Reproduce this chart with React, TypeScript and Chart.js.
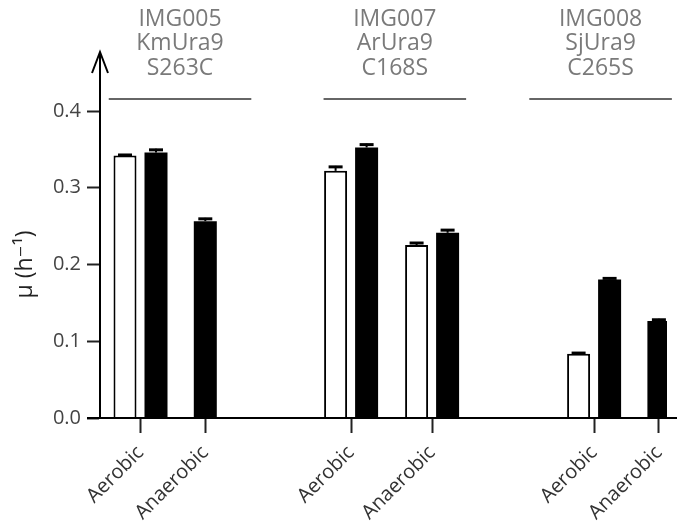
import React, { useEffect, useRef } from "react";
import { Chart, registerables } from "chart.js";

Chart.register(...registerables);

// ---- data ----
const groupNames: string[][] = [
  ["IMG005", "KmUra9", "S263C"],
  ["IMG007", "ArUra9", "C168S"],
  ["IMG008", "SjUra9", "C265S"],
];
const conditions = ["Aerobic", "Anaerobic"];
// one entry per (group, condition): G1 Aer, G1 Anaer, G2 Aer, G2 Anaer, G3 Aer, G3 Anaer
const openValues: (number | null)[] = [0.342, null, 0.322, 0.2253, 0.0837, null];
const openErrors: (number | null)[] = [0.002, null, 0.0065, 0.004, 0.0022, null];
const filledValues: (number | null)[] = [0.346, 0.2565, 0.3525, 0.2413, 0.1806, 0.1263];
const filledErrors: (number | null)[] = [0.0047, 0.0043, 0.005, 0.0048, 0.0026, 0.003];
const yTicks = [0, 0.1, 0.2, 0.3, 0.4];
const yTitle = "μ (h⁻¹)";

// ---- layout (category slots on the x axis) ----
const SLOT_COUNT = 35;
const slotOf = [2, 6, 15, 20, 30, 34];
const headerSlot = [4.44, 17.7, 30.4];
const headerHalfSlots = 4.4;

const FONT = "'Open Sans', 'DejaVu Sans', sans-serif";

function buildLabels(): string[] {
  const labels = new Array(SLOT_COUNT).fill("");
  slotOf.forEach((s, i) => {
    labels[s] = conditions[i % conditions.length];
  });
  return labels;
}
function spread(values: (number | null)[]): (number | null)[] {
  const out: (number | null)[] = new Array(SLOT_COUNT).fill(null);
  slotOf.forEach((s, i) => {
    out[s] = values[i];
  });
  return out;
}

const errorBarPlugin = {
  id: "errorBars",
  afterDatasetsDraw(chart: any) {
    const ctx = chart.ctx;
    const y = chart.scales.y;
    const errs = [spread(openErrors), spread(filledErrors)];
    chart.data.datasets.forEach((ds: any, di: number) => {
      const meta = chart.getDatasetMeta(di);
      meta.data.forEach((el: any, i: number) => {
        const v = ds.data[i];
        const e = errs[di][i];
        if (v == null || e == null) return;
        const top = y.getPixelForValue(v + e);
        ctx.save();
        ctx.strokeStyle = "#000";
        ctx.lineWidth = 2;
        ctx.beginPath();
        ctx.moveTo(el.x, el.y);
        ctx.lineTo(el.x, top);
        ctx.stroke();
        ctx.lineWidth = 3;
        ctx.beginPath();
        ctx.moveTo(el.x - 7, top + 1);
        ctx.lineTo(el.x + 7, top + 1);
        ctx.stroke();
        ctx.restore();
      });
    });
  },
};

const decorPlugin = {
  id: "decor",
  afterDraw(chart: any) {
    const ctx = chart.ctx;
    const area = chart.chartArea;
    const x = chart.scales.x;
    ctx.save();
    // x axis line extended
    ctx.strokeStyle = "#000";
    ctx.lineWidth = 2;
    ctx.beginPath();
    ctx.moveTo(area.left - 13, area.bottom);
    ctx.lineTo(chart.width, area.bottom);
    ctx.stroke();
    // y axis extension with arrow
    const tipY = area.top - 59;
    ctx.beginPath();
    ctx.moveTo(area.left, area.top);
    ctx.lineTo(area.left, tipY);
    ctx.stroke();
    ctx.beginPath();
    ctx.moveTo(area.left - 8, tipY + 21);
    ctx.lineTo(area.left, tipY);
    ctx.lineTo(area.left + 8, tipY + 21);
    ctx.stroke();
    // group headers
    groupNames.forEach((lines, g) => {
      const cx = x.getPixelForValue(headerSlot[g]);
      const half = x.getPixelForValue(headerSlot[g] + headerHalfSlots) - cx;
      ctx.strokeStyle = "#666";
      ctx.lineWidth = 2;
      ctx.beginPath();
      ctx.moveTo(cx - half, area.top - 12);
      ctx.lineTo(cx + half, area.top - 12);
      ctx.stroke();
      ctx.fillStyle = "#7a7a7a";
      ctx.font = `23px ${FONT}`;
      ctx.textAlign = "center";
      ctx.textBaseline = "middle";
      lines.forEach((t, li) => {
        ctx.fillText(t, cx, 19 + li * 24.5);
      });
    });
    ctx.restore();
  },
};

export default function App() {
  const ref = useRef<HTMLCanvasElement | null>(null);
  useEffect(() => {
    if (!ref.current) return;
    const labels = buildLabels();
    const catWidth = 567 / SLOT_COUNT;
    const chart = new Chart(ref.current, {
      type: "bar",
      data: {
        labels,
        datasets: [
          {
            label: "open",
            data: spread(openValues),
            backgroundColor: "#ffffff",
            borderColor: "#000000",
            borderWidth: 2,
          },
          {
            label: "filled",
            data: spread(filledValues),
            backgroundColor: "#000000",
            borderColor: "#000000",
            borderWidth: 0,
          },
        ],
      },
      options: {
        responsive: false,
        animation: false,
        skipNull: true,
        categoryPercentage: 62 / catWidth,
        barPercentage: 1,
        maxBarThickness: 23,
        layout: { padding: { top: 111, right: 10, left: 0, bottom: 0 } },
        plugins: { legend: { display: false }, tooltip: { enabled: false } },
        scales: {
          x: {
            type: "category",
            offset: true,
            afterFit: (s: any) => {
              s.height = 107;
              s.paddingLeft = 0;
              s.paddingRight = 0;
            },
            border: { display: true, color: "#000", width: 2 },
            grid: {
              offset: false,
              drawOnChartArea: false,
              drawTicks: true,
              tickLength: 15,
              tickWidth: 2,
              tickColor: (c: any) => (c.tick && c.tick.label ? "#222" : "rgba(0,0,0,0)"),
            },
            ticks: {
              autoSkip: false,
              minRotation: 45,
              maxRotation: 45,
              padding: 8,
              color: "#333",
              font: { family: FONT, size: 20 },
            },
          },
          y: {
            min: 0,
            max: 0.4,
            afterFit: (s: any) => {
              s.width = 100;
              s.paddingTop = 0;
              s.paddingBottom = 0;
            },
            afterBuildTicks: (s: any) => {
              s.ticks = yTicks.map((v) => ({ value: v }));
            },
            border: { display: true, color: "#000", width: 2 },
            grid: {
              drawOnChartArea: false,
              drawTicks: true,
              tickLength: 13,
              tickWidth: 2,
              tickColor: "#222",
            },
            ticks: {
              padding: 6,
              color: "#444",
              font: { family: FONT, size: 20 },
              callback: (v: any) => Number(v).toFixed(1),
            },
            title: {
              display: true,
              text: yTitle,
              color: "#222",
              font: { family: FONT, size: 23 },
              padding: { top: 12, bottom: 0 },
            },
          },
        },
      } as any,
      plugins: [errorBarPlugin, decorPlugin],
    });
    return () => chart.destroy();
  }, []);
  return (
    <div style={{ position: "absolute", left: 0, top: 0, width: 677, height: 525, background: "#fff" }}>
      <canvas ref={ref} width={677} height={525} style={{ display: "block" }} />
    </div>
  );
}
